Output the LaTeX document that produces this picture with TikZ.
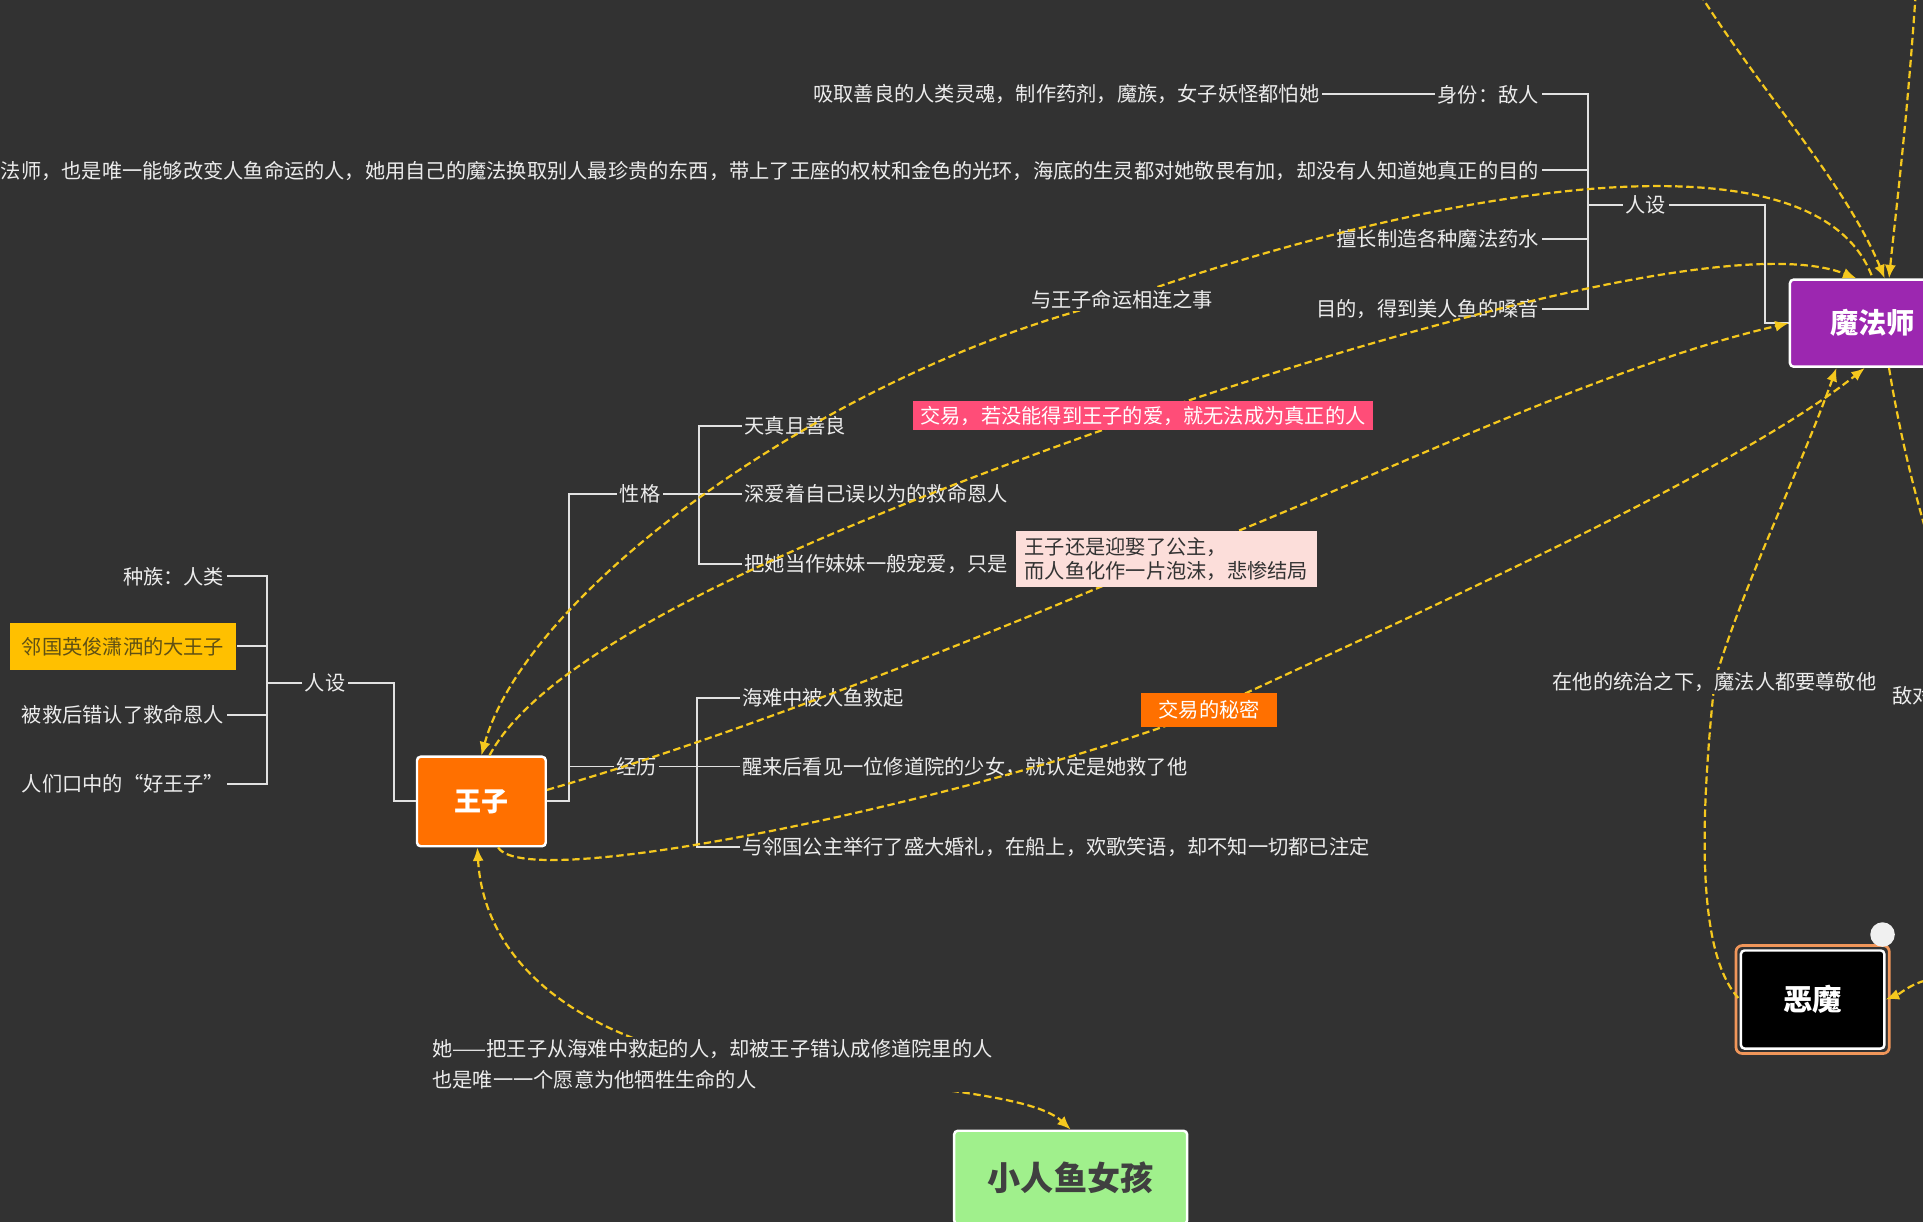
\documentclass[tikz,border=0pt]{standalone}
\usepackage{fontspec}
\setmainfont{Noto Sans CJK SC}
\usetikzlibrary{arrows.meta}

\definecolor{bgc}{RGB}{50,50,50}
\definecolor{linec}{RGB}{225,225,225}
\definecolor{txtc}{RGB}{236,236,236}
\definecolor{relc}{RGB}{245,200,30}
\definecolor{wzc}{RGB}{255,112,0}
\definecolor{magc}{RGB}{156,39,176}
\definecolor{yelc}{RGB}{255,192,0}
\definecolor{olivec}{RGB}{95,80,20}
\definecolor{redc}{RGB}{255,77,120}
\definecolor{pinkc}{RGB}{252,222,218}
\definecolor{greenc}{RGB}{160,240,140}
\definecolor{emc}{RGB}{240,150,90}

\begin{document}
\begin{tikzpicture}[x=1pt,y=-1pt,
  txt/.style={text=txtc,font=\fontsize{16.5}{20}\selectfont,inner sep=2pt},
  topic/.style={draw=white,line width=2pt,rounded corners=3pt,text=white},
  branch/.style={draw=linec,line width=1.6pt},
  rel/.style={draw=relc,line width=1.8pt,dash pattern=on 6pt off 3pt},
  tipend/.style={rel,-{Latex[length=11pt,width=9pt]}},
  tipstart/.style={rel,{Latex[length=11pt,width=9pt]}-},
  tipboth/.style={rel,{Latex[length=11pt,width=9pt]}-{Latex[length=11pt,width=9pt]}}]
\useasboundingbox (0,0) rectangle (1568,996);
\fill[bgc] (0,0) rectangle (1568,996);
\clip (0,0) rectangle (1568,996);

\node[topic,fill=magc,minimum width=135pt,minimum height=71pt,font=\bfseries\fontsize{23}{27}\selectfont] (mag) at (1527,263.5) {魔法师};
\node[topic,fill=wzc,minimum width=105pt,minimum height=73pt,font=\bfseries\fontsize{22}{26}\selectfont] (wz) at (392.5,653.5) {王子};
\node[topic,fill=black,minimum width=117pt,minimum height=80pt,font=\bfseries\fontsize{24}{28}\selectfont] (em) at (1478,815) {恶魔};
\draw[emc,line width=2.2pt,rounded corners=5pt] ([shift={(-3pt,3pt)}]em.north west) rectangle ([shift={(3pt,-3pt)}]em.south east);
\node[circle,fill=white!88!gray,minimum size=20pt,inner sep=0pt] (emdot) at (1535,762) {};
\node[topic,fill=greenc,text=black!75,minimum width=190pt,minimum height=76pt,font=\bfseries\fontsize{27}{31}\selectfont] (gn) at (873,960) {小人鱼女孩};

\node[txt] (rset) at (1342,167) {人设};
\node[txt,anchor=east] (r1) at (1257,77) {身份：敌人};
\node[txt,anchor=east] (r1d) at (1078,77) {吸取善良的人类灵魂，制作药剂，魔族，女子妖怪都怕她};
\node[txt,anchor=east] (r2) at (1257,139) {她是深海中最古老的魔法师，也是唯一能够改变人鱼命运的人，她用自己的魔法换取别人最珍贵的东西，带上了王座的权杖和金色的光环，海底的生灵都对她敬畏有加，却没有人知道她真正的目的};
\node[txt,anchor=east] (r3) at (1257,195) {擅长制造各种魔法药水};
\node[txt,anchor=east] (r4) at (1257,252) {目的，得到美人鱼的嗓音};

\node[txt] (lset) at (265,557) {人设};
\node[txt,anchor=east] (l1) at (185,470) {种族：人类};
\node[txt,anchor=east,fill=yelc,text=olivec,minimum height=38pt,inner xsep=10pt] (l2) at (193,527) {邻国英俊潇洒的大王子};
\node[txt,anchor=east] (l3) at (185,583) {被救后错认了救命恩人};
\node[txt,anchor=east] (l4) at (185,639) {人们口中的“好王子”};

\node[txt] (xg) at (522,403) {性格};
\node[txt,anchor=west] (k1) at (605,347) {天真且善良};
\node[txt,anchor=west] (k2) at (605,403) {深爱着自己误以为的救命恩人};
\node[txt,anchor=west] (k3) at (605,460) {把她当作妹妹一般宠爱，只是};

\node[txt] (jl) at (519,625) {经历};
\node[txt,anchor=west] (j1) at (603,569) {海难中被人鱼救起};
\node[txt,anchor=west] (j2) at (603,625) {醒来后看见一位修道院的少女，就认定是她救了他};
\node[txt,anchor=west] (j3) at (603,691) {与邻国公主举行了盛大婚礼，在船上，欢歌笑语，却不知一切都已注定};

\node[txt,anchor=west] (cut) at (1541,567) {敌对关系};

\draw[branch] (mag.west) -- ++(-19,0) |- (rset.east);
\coordinate (rb) at (1295,167);
\foreach \nd in {r1,r2,r3,r4} \draw[branch] (rset.west) -- (rb) |- (\nd.east);
\draw[branch] (r1.west) -- (r1d.east);

\draw[branch] (wz.west) -- ++(-18,0) |- (lset.east);
\coordinate (lb) at (218,557);
\foreach \nd in {l1,l2,l3,l4} \draw[branch] (lset.west) -- (lb) |- (\nd.east);

\draw[branch] (wz.east) -- ++(18,0) |- (xg.west);
\draw[branch] (wz.east) -- ++(18,0) |- (jl.west);
\coordinate (xb) at (570,403);
\foreach \nd in {k1,k2,k3} \draw[branch] (xg.east) -- (xb) |- (\nd.west);
\coordinate (jb) at (568,625);
\foreach \nd in {j1,j2,j3} \draw[branch] (jl.east) -- (jb) |- (\nd.west);

\coordinate (c1) at (915,244);
\coordinate (c2) at (932,339);
\coordinate (c3) at (951,456);
\coordinate (c4) at (986,579);
\coordinate (c5) at (1398,556);
\coordinate (c6) at (600,868);
\coordinate (o1) at (1386,-5);
\coordinate (o2) at (1562,-5);
\coordinate (o3) at (1585,480);
\coordinate (o4) at (1578,798);

\draw[tipstart] (wz.north) .. controls (430,480) and (680,300) .. (c1) .. controls (1150,160) and (1480,95) .. (mag.north);
\draw[tipend] (wz.80) .. controls (450,520) and (700,420) .. (c2) .. controls (1150,265) and (1420,190) .. (mag.110);
\draw[tipend] (wz.10) .. controls (600,600) and (800,520) .. (c3) .. controls (1100,400) and (1300,300) .. (mag.west);
\draw[tipend] (wz.-70) .. controls (430,730) and (800,650) .. (c4) .. controls (1200,480) and (1420,380) .. (mag.-100);
\draw[tipstart] (mag.-129) .. controls (1465,390) and (1420,480) .. (c5) .. controls (1385,680) and (1385,780) .. (em.west);
\draw[tipend] (o1) .. controls (1440,80) and (1505,150) .. (mag.75);
\draw[tipend] (o2) .. controls (1555,100) and (1545,180) .. (mag.70);
\draw[rel] (mag.-70) .. controls (1550,360) and (1565,420) .. (o3);
\draw[tipend] (o4) .. controls (1560,800) and (1550,810) .. (em.east);
\draw[tipboth] (wz.-95) .. controls (395,790) and (480,850) .. (c6) .. controls (720,885) and (840,890) .. (gn.north);

\node[txt,fill=bgc] (lab1) at (c1) {与王子命运相连之事};
\node[txt,fill=redc,text=white,inner xsep=6pt,inner ysep=4pt] (lab2) at (c2) {交易，若没能得到王子的爱，就无法成为真正的人};
\node[txt,fill=pinkc,text=black!80,align=left,inner xsep=7pt,inner ysep=5pt] (lab3) at (c3) {王子还是迎娶了公主，\\而人鱼化作一片泡沫，悲惨结局};
\node[txt,fill=wzc,text=white,inner xsep=14pt,inner ysep=6pt] (lab4) at (c4) {交易的秘密};
\node[txt,fill=bgc] (lab5) at (c5) {在他的统治之下，魔法人都要尊敬他};
\node[txt,fill=bgc,align=left,font=\fontsize{16.5}{25}\selectfont] (lab6) at (581,868) {她——把王子从海难中救起的人，却被王子错认成修道院里的人\\也是唯一一个愿意为他牺牲生命的人};
\end{tikzpicture}
\end{document}
